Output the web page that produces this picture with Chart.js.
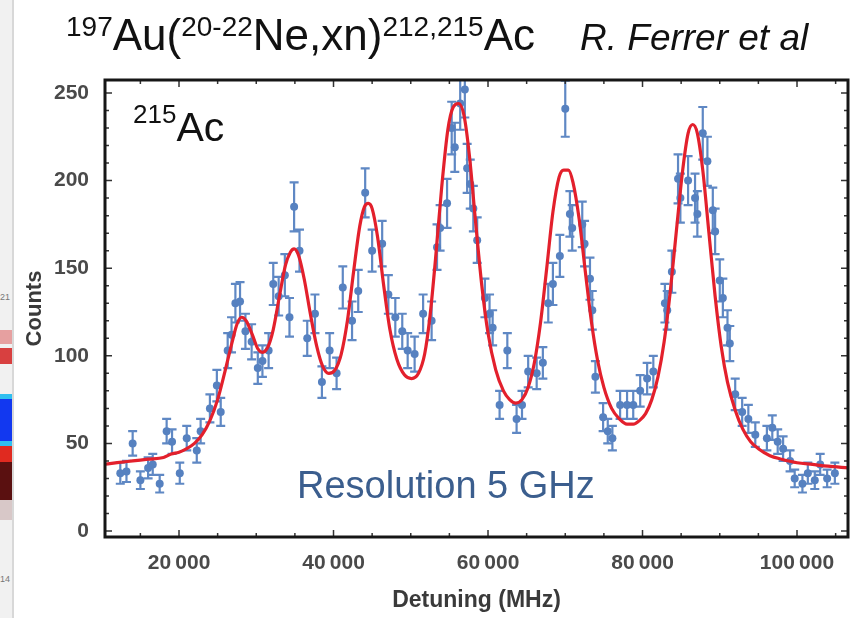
<!DOCTYPE html>
<html>
<head>
<meta charset="utf-8">
<script src="https://cdn.jsdelivr.net/npm/chart.js@4.4.1/dist/chart.umd.min.js"></script>
<style>
  html,body{margin:0;padding:0;background:#fff;}
  #wrap{position:relative;width:856px;height:618px;overflow:hidden;background:#fff;font-family:"Liberation Sans",Arial,sans-serif;}
  #c{position:absolute;left:0;top:0;}
  .txt{position:absolute;white-space:nowrap;line-height:1;}
  .sup{position:relative;}
  #strip{position:absolute;left:0;top:0;width:12px;height:618px;background:#f1f1f1;border-right:2px solid #d8d8d8;}
  .blk{position:absolute;left:0;width:12px;}
</style>
</head>
<body>
<div id="wrap">
  <div id="strip">
    <div class="blk" style="top:292px;height:8px;color:#777;font-size:9px;">21</div>
    <div class="blk" style="top:330px;height:14px;background:#e6a0a0;"></div>
    <div class="blk" style="top:348px;height:16px;background:#d84040;"></div>
    <div class="blk" style="top:394px;height:5px;background:#30c0f0;"></div>
    <div class="blk" style="top:399px;height:42px;background:#1238f0;"></div>
    <div class="blk" style="top:441px;height:5px;background:#30c0f0;"></div>
    <div class="blk" style="top:446px;height:16px;background:#e02a20;"></div>
    <div class="blk" style="top:462px;height:38px;background:#5a1010;"></div>
    <div class="blk" style="top:500px;height:20px;background:#d8c8c8;"></div>
    <div class="blk" style="top:574px;height:10px;color:#777;font-size:9px;">14</div>
  </div>
  <canvas id="c" width="856" height="618"></canvas>
  <div class="txt" style="left:66px;top:13px;font-size:44px;color:#111;"><span class="sup" style="font-size:28px;top:-14px;">197</span>Au(<span class="sup" style="font-size:28px;top:-14px;">20-22</span>Ne,xn)<span class="sup" style="font-size:28px;top:-14px;">212,215</span>Ac</div>
  <div class="txt" style="left:580px;top:19px;font-size:37px;font-style:italic;color:#111;">R. Ferrer et al</div>
  <div class="txt" style="left:133px;top:107px;font-size:41px;color:#111;"><span class="sup" style="font-size:26px;top:-18px;">215</span>Ac</div>
  <div class="txt" style="left:297px;top:466px;font-size:38px;color:#3b5e8e;">Resolution 5 GHz</div>
</div>
<script>
// ---- data ----
const detuning = [12400,13200,14000,15000,16000,16600,17500,18400,19100,20100,21000,22300,22800,24000,24900,25400,26300,26800,27300,27900,28600,29400,30200,30800,31600,32200,32900,33700,34300,34900,35600,
  36600,37600,38500,39500,40400,41200,42400,43200,44100,45000,46300,47100,48000,48900,49600,50500,51600,52700,53400,53800,54700,55300,55700,56400,57000,57300,57700,58100,58600,59600,60200,60600,
  61500,62500,63700,64400,65200,66300,67100,67800,68400,69300,70000,70600,70900,72200,72500,73200,73500,73900,74900,75500,76100,77100,78000,78800,79700,80600,81400,82900,83200,83800,84600,84900,85900,86800,87100,87800,88400,89100,89400,90000,90400,91000,91300,92000,92900,93700,94600,96100,96800,97500,98200,99100,99700,100700,101400,102300,103000,103900,104900];
const counts = [33,34,50,29,36,38,27,57,51,33,53,46,57,70,83,68,103,112,130,131,114,108,93,97,103,141,134,146,122,185,160,
  110,124,85,103,90,139,120,137,193,160,164,135,122,114,103,101,124,120,162,173,187,230,219,244,252,207,198,184,166,133,124,116,
  72,103,64,72,91,90,96,130,141,157,241,181,173,175,164,144,126,88,65,57,53,72,72,72,80,87,91,130,126,148,201,190,200,190,181,227,211,183,171,143,133,116,107,78,68,64,55,53,59,51,47,40,30,27,33,29,38,30,33];
const countErr = [6,6,7,5,6,6,5,7,7,6,7,7,7,8,9,8,10,10,11,11,10,10,9,9,10,12,11,12,11,14,12,
  10,11,9,10,9,12,11,12,14,12,13,11,11,10,10,10,11,11,13,13,14,15,14,15,16,14,14,13,13,11,11,10,
  8,10,8,8,9,9,9,11,12,12,16,13,13,13,13,12,11,9,8,7,7,8,8,8,9,9,9,11,11,12,14,14,14,14,13,15,14,13,13,12,11,10,10,9,8,8,7,7,7,7,7,6,5,5,6,5,6,5,6];

const fitX = [10200,12000,14000,16000,18000,19000,20000,21000,22000,23000,24000,25000,26000,27000,27500,28100,28700,29500,30200,30800,31500,32200,33000,33800,34400,34900,35500,36200,37000,37800,38600,39400,40200,41000,41800,42600,43400,44000,44500,45000,45700,46500,47300,48200,49200,50100,51000,51800,52500,53200,54000,54800,55500,56200,56900,57600,58400,59200,60000,61000,62000,62800,63600,64400,65200,66000,66800,67600,68400,69200,69800,70400,71000,71800,72600,73400,74200,75000,76000,77000,78000,78800,79600,80400,81200,82000,82800,83600,84400,85200,85900,86500,87100,87800,88600,89400,90200,91000,92000,93000,94000,95000,96500,98000,100000,102000,104000,106600];
const fitY = [38,39,40,41,42,44,45,47,50,55,63,75,92,110,118,122,120,112,104,102,105,115,134,152,159,161,157,144,124,106,94,90,92,101,120,148,174,185,187,184,168,140,115,98,89,87,90,101,123,155,196,229,242,244,237,214,176,140,113,92,80,75,73,75,82,96,119,150,182,202,206,206,199,178,148,119,97,82,70,64,61,61,63,67,75,88,108,137,172,206,227,232,227,206,170,134,105,85,69,58,51,47,43,41,39,38,37,36];

const xTickValues = [20000,40000,60000,80000,100000];
const yTickValues = [0,50,100,150,200,250];
const X_MIN = 10420, X_MAX = 106600, Y_MIN = -3.4, Y_MAX = 257.4;
const X_MINOR = 5000, Y_MINOR = 10;

const POINT_COLOR = '#5681c0';
const ERR_COLOR = '#5f88c4';
const FIT_COLOR = '#e3202c';

const points = detuning.map((x,i)=>({x:x, y:counts[i]}));
const fit = fitX.map((x,i)=>({x:x, y:fitY[i]}));

const errorBars = {
  id:'errorBars',
  beforeDatasetDraw(chart, args){
    if(args.index !== 0) return;
    const {ctx, chartArea:a} = chart;
    const xs = chart.scales.x, ys = chart.scales.y;
    ctx.save();
    ctx.beginPath(); ctx.rect(a.left, a.top, a.right-a.left, a.bottom-a.top); ctx.clip();
    ctx.strokeStyle = ERR_COLOR; ctx.lineWidth = 2.2;
    ctx.beginPath();
    for(let i=0;i<detuning.length;i++){
      const px = xs.getPixelForValue(detuning[i]);
      const y1 = ys.getPixelForValue(counts[i]-countErr[i]);
      const y2 = ys.getPixelForValue(counts[i]+countErr[i]);
      ctx.moveTo(px,y1); ctx.lineTo(px,y2);
      ctx.moveTo(px-4.5,y1); ctx.lineTo(px+4.5,y1);
      ctx.moveTo(px-4.5,y2); ctx.lineTo(px+4.5,y2);
    }
    ctx.stroke();
    ctx.restore();
  }
};

const frame = {
  id:'frame',
  afterDraw(chart){
    const {ctx, chartArea:a} = chart;
    const xs = chart.scales.x, ys = chart.scales.y;
    ctx.save();
    ctx.strokeStyle = '#333'; ctx.lineWidth = 1.5;
    ctx.beginPath();
    const major = 7, minor = 4;
    for(let v=Math.ceil(X_MIN/X_MINOR)*X_MINOR; v<=X_MAX; v+=X_MINOR){
      const p = xs.getPixelForValue(v);
      const L = xTickValues.includes(v) ? major : minor;
      ctx.moveTo(p,a.bottom); ctx.lineTo(p,a.bottom-L);
      ctx.moveTo(p,a.top); ctx.lineTo(p,a.top+L);
    }
    for(let v=Math.ceil(Y_MIN/Y_MINOR)*Y_MINOR; v<=Y_MAX; v+=Y_MINOR){
      const p = ys.getPixelForValue(v);
      const L = yTickValues.includes(v) ? major : minor;
      ctx.moveTo(a.left,p); ctx.lineTo(a.left+L,p);
      ctx.moveTo(a.right,p); ctx.lineTo(a.right-L,p);
    }
    ctx.stroke();
    ctx.strokeStyle = '#161616'; ctx.lineWidth = 3;
    ctx.strokeRect(a.left, a.top, a.right-a.left, a.bottom-a.top);
    ctx.restore();
  }
};

const fmt = v => String(v).replace(/\B(?=(\d{3})+(?!\d))/g, '\u2009');

new Chart(document.getElementById('c'), {
  type:'scatter',
  data:{datasets:[
    {label:'Counts', data:points, order:1, pointRadius:4, pointHoverRadius:4, pointBackgroundColor:POINT_COLOR, pointBorderWidth:0, showLine:false},
    {type:'line', label:'Fit', data:fit, order:0, borderColor:FIT_COLOR, borderWidth:3.2, pointRadius:0, fill:false, cubicInterpolationMode:'monotone'}
  ]},
  options:{
    responsive:false, animation:false,
    layout:{padding:{left:0, top:80, right:8, bottom:0}},
    plugins:{legend:{display:false}, tooltip:{enabled:false}},
    scales:{
      x:{type:'linear', min:X_MIN, max:X_MAX,
         grid:{display:false}, border:{display:false},
         afterBuildTicks: s => { s.ticks = xTickValues.map(v=>({value:v})); },
         afterFit: s => { s.height = 81; },
         ticks:{padding:6, autoSkip:false, maxRotation:0, color:'#4a4a4a', font:{family:'Liberation Sans', size:21, weight:'bold'}, callback: v => fmt(v)},
         title:{display:true, text:'Detuning (MHz)', color:'#3a3a3a', font:{family:'Liberation Sans', size:23, weight:'bold'}, padding:{top:0, bottom:4}}
      },
      y:{type:'linear', min:Y_MIN, max:Y_MAX,
         grid:{display:false}, border:{display:false},
         afterBuildTicks: s => { s.ticks = yTickValues.map(v=>({value:v})); },
         afterFit: s => { s.width = 105; },
         ticks:{padding:8, autoSkip:false, color:'#4a4a4a', font:{family:'Liberation Sans', size:21, weight:'bold'}, callback: v => fmt(v)},
         title:{display:true, text:'Counts', color:'#3a3a3a', font:{family:'Liberation Sans', size:22, weight:'bold'}, padding:{top:22, bottom:0}}
      }
    }
  },
  plugins:[errorBars, frame]
});
</script>
</body>
</html>
